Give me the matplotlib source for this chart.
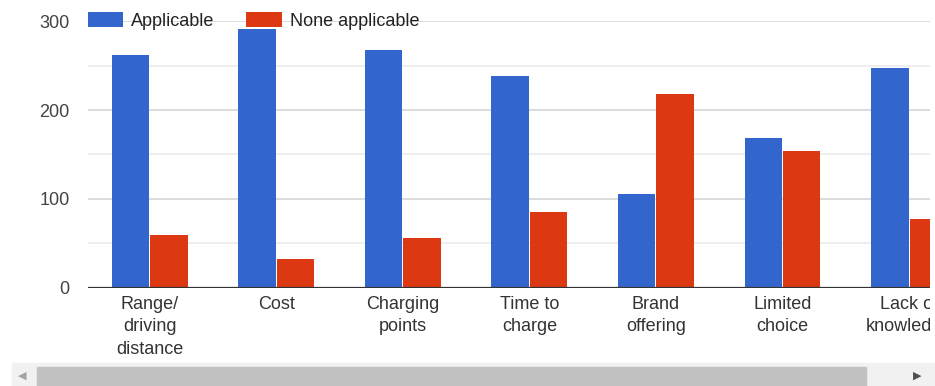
import numpy as np
import matplotlib.pyplot as plt
from matplotlib.patches import Rectangle
from matplotlib.transforms import Bbox, TransformedBbox

plt.rcParams['font.family'] = ['Liberation Sans', 'DejaVu Sans']

# Survey answers per barrier
categories = ['Range/\ndriving\ndistance', 'Cost', 'Charging\npoints', 'Time to\ncharge',
              'Brand\noffering', 'Limited\nchoice', 'Lack of\nknowledge']
applicable = [262, 291, 268, 238, 106, 169, 247]
not_applicable = [59, 32, 56, 85, 218, 154, 77]
series_names = ['Applicable', 'None applicable']
y_ticks = [0, 100, 200, 300]

BLUE = '#3366cc'
RED = '#dc3912'

W, H = 935, 386
fig = plt.figure(figsize=(W / 100, H / 100), dpi=100)
ax_left, ax_right = 87.5 / W, 930 / W
ax_bottom, ax_top = 1 - 287.7 / H, 1 - 21.2 / H
ax = fig.add_axes([ax_left, ax_bottom, ax_right - ax_left, ax_top - ax_bottom])

x = np.arange(len(categories))
bw = 0.296
ax.bar(x - 0.152, applicable, bw, color=BLUE, label=series_names[0], zorder=3)
ax.bar(x + 0.152, not_applicable, bw, color=RED, label=series_names[1], zorder=3)

ax.set_xlim(-0.49, 6.165)
ax.set_ylim(0, 300)

# gridlines: major every 100, minor every 50
ax.set_yticks(y_ticks)
ax.set_yticks([50, 150, 250], minor=True)
ax.grid(axis='y', which='major', color='#d6d6d6', lw=1.2, zorder=0)
ax.grid(axis='y', which='minor', color='#ebebeb', lw=1.2, zorder=0)
ax.axhline(0, color='#333333', lw=1.6, zorder=4)

for s in ax.spines.values():
    s.set_visible(False)
ax.tick_params(axis='y', which='both', length=0, pad=13, labelsize=13, labelcolor='#444444')
ax.tick_params(axis='x', length=0, pad=6, labelsize=13, labelcolor='#333333')
ax.set_xticks(x)
ax.set_xticklabels(categories, linespacing=1.42, va='top')

# last label runs off the visible chart area
clip = TransformedBbox(Bbox([[0, 0], [ax_right, 1]]), fig.transFigure)
for lbl in ax.get_xticklabels():
    lbl.set_clip_on(True)
    lbl.set_clip_box(clip)

ax.legend(loc='center left', bbox_to_anchor=(88 / W, 1 - 21 / H),
          bbox_transform=fig.transFigure, ncol=2, frameon=False,
          fontsize=13, handlelength=1.95, handleheight=0.9, handletextpad=0.45,
          columnspacing=1.75, borderpad=0, borderaxespad=0, labelcolor='#222222')

# horizontal scrollbar underneath
fig.patches.append(Rectangle((12 / W, 0), (W - 12) / W, 23 / H, transform=fig.transFigure,
                             color='#f1f1f1', zorder=0))
fig.patches.append(Rectangle((37 / W, 0), (866 - 37) / W, 19 / H, transform=fig.transFigure,
                             color='#c1c1c1', zorder=1))
fig.text(22 / W, 1 - 376 / H, '\u25c0', color='#a3a3a3', fontsize=8, ha='center', va='center',
         family='DejaVu Sans')
fig.text(917 / W, 1 - 376 / H, '\u25b6', color='#505050', fontsize=8, ha='center', va='center',
         family='DejaVu Sans')

fig.savefig('out.png', dpi=100, facecolor='white')
